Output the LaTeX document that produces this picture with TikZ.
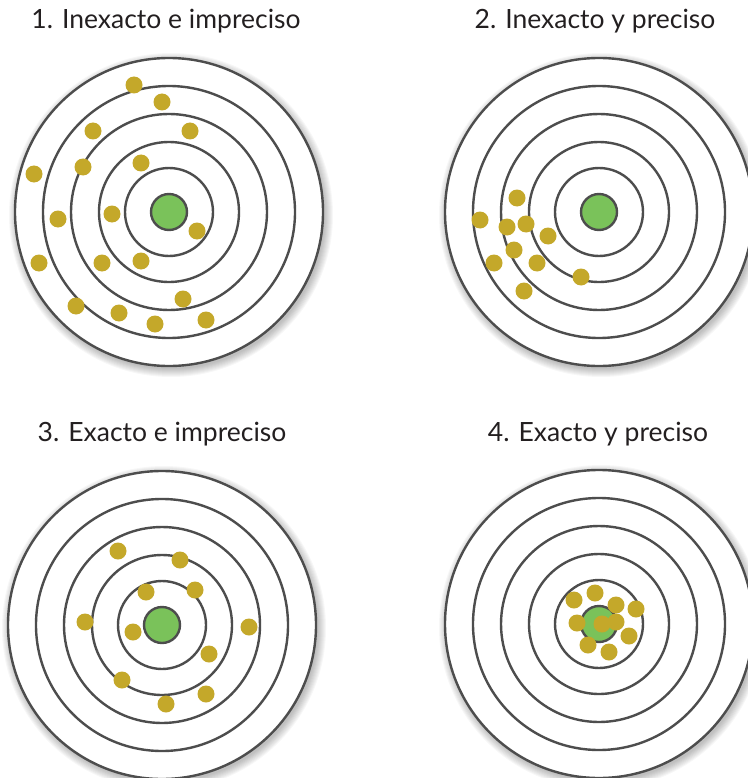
\documentclass[tikz,border=0pt]{standalone}
\usepackage{fontspec}
\setmainfont{Lato}
\usetikzlibrary{positioning}

\definecolor{ringgray}{HTML}{4D4D4D}
\definecolor{dotgold}{HTML}{C4A82A}
\definecolor{bullgreen}{HTML}{7AC25A}
\definecolor{labeltext}{HTML}{231F20}

% one target: name, x, y
\newcommand{\drawtarget}[3]{%
  \foreach \s in {1,...,9} \fill[black, opacity=0.03] (#2+2,#3+3) circle (153+\s);
  \node[ring, minimum size=308pt] (#1r1) at (#2,#3) {};
  \node[ring, minimum size=252pt] (#1r2) at (#2,#3) {};
  \node[ring, minimum size=196pt] (#1r3) at (#2,#3) {};
  \node[ring, minimum size=140pt] (#1r4) at (#2,#3) {};
  \node[ring, minimum size=88pt]  (#1r5) at (#2,#3) {};
  \node[bull] (#1c) at (#2,#3) {};
}

\begin{document}
\begin{tikzpicture}[x=1pt, y=-1pt]
	\tikzset{
		ring/.style={circle, draw=ringgray, line width=2.4pt, fill=white, inner sep=0pt},
		bull/.style={circle, draw=ringgray, line width=2.4pt, fill=bullgreen, minimum size=36pt, inner sep=0pt},
		hit/.style={circle, fill=dotgold, minimum size=17pt, inner sep=0pt},
		caption/.style={text=labeltext, font=\fontsize{26.5}{30}\selectfont, anchor=base}
	}
	\useasboundingbox (0,0) rectangle (747,778);
	
	\drawtarget{ta}{169}{212}
	\drawtarget{tb}{599}{212}
	\drawtarget{tc}{162}{625}
	\drawtarget{td}{599}{624}
	
	\node[caption] (laba) at (166,29) {1. Inexacto e impreciso};
	\node[caption] (labb) at (595,29) {2. Inexacto y preciso};
	\node[caption] (labc) at (162,441) {3. Exacto e impreciso};
	\node[caption] (labd) at (598,441) {4. Exacto y preciso};
	
	% inexacto e impreciso
	\foreach \x/\y [count=\i] in {134/85, 162/102, 93/131, 190/131, 34/174, 83/167, 141/163, 58/219, 112/214, 197/231, 39/263, 102/263, 141/261, 183/299, 76/306, 119/313, 155/324, 206/320}
		\node[hit] (ha\i) at (\x,\y) {};
	
	% inexacto y preciso
	\foreach \x/\y [count=\i] in {517/198, 480/220, 507/227, 526/224, 548/236, 514/250, 494/263, 537/263, 581/277, 524/291}
		\node[hit] (hb\i) at (\x,\y) {};
	
	% exacto e impreciso
	\foreach \x/\y [count=\i] in {118/551, 180/560, 146/592, 195/590, 85/622, 133/632, 249/627, 209/654, 122/680, 206/694, 166/704}
		\node[hit] (hc\i) at (\x,\y) {};
	
	% exacto y preciso
	\foreach \x/\y [count=\i] in {574/600, 595/593, 616/605, 636/609, 577/623, 602/624, 616/622, 629/636, 588/645, 609/652}
		\node[hit] (hd\i) at (\x,\y) {};
\end{tikzpicture}
\end{document}
